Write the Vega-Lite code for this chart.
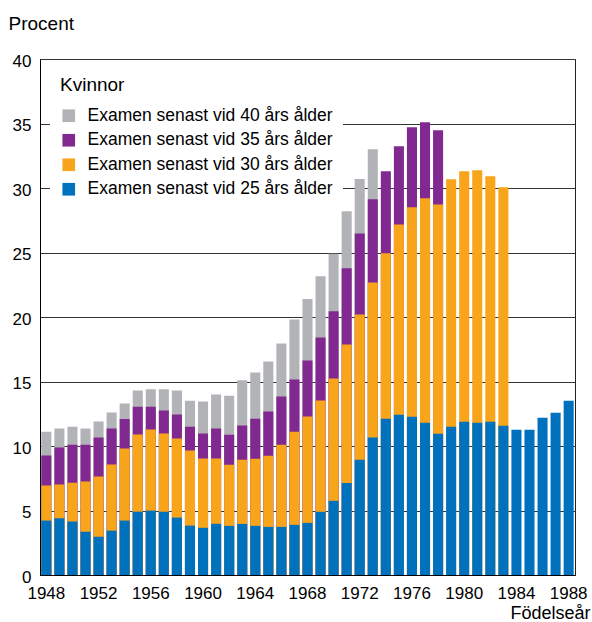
{
  "$schema": "https://vega.github.io/schema/vega-lite/v6.json",
  "width": 535,
  "height": 516,
  "autosize": {"type": "none"},
  "padding": {"left": 40, "top": 59, "right": 17, "bottom": 47},
  "background": "white",
  "config": {
    "font": "Liberation Sans",
    "view": {"stroke": "#222", "strokeWidth": 1},
    "axis": {"labelColor": "#000", "titleColor": "#000", "labelFont": "Liberation Sans", "titleFont": "Liberation Sans", "titleFontWeight": "normal"}
  },
  "data": {
    "values": [
      {"år": 1948, "grupp": "Examen senast vid 40 års ålder", "procent": 11.1},
      {"år": 1949, "grupp": "Examen senast vid 40 års ålder", "procent": 11.35},
      {"år": 1950, "grupp": "Examen senast vid 40 års ålder", "procent": 11.5},
      {"år": 1951, "grupp": "Examen senast vid 40 års ålder", "procent": 11.35},
      {"år": 1952, "grupp": "Examen senast vid 40 års ålder", "procent": 11.9},
      {"år": 1953, "grupp": "Examen senast vid 40 års ålder", "procent": 12.6},
      {"år": 1954, "grupp": "Examen senast vid 40 års ålder", "procent": 13.3},
      {"år": 1955, "grupp": "Examen senast vid 40 års ålder", "procent": 14.3},
      {"år": 1956, "grupp": "Examen senast vid 40 års ålder", "procent": 14.4},
      {"år": 1957, "grupp": "Examen senast vid 40 års ålder", "procent": 14.4},
      {"år": 1958, "grupp": "Examen senast vid 40 års ålder", "procent": 14.3},
      {"år": 1959, "grupp": "Examen senast vid 40 års ålder", "procent": 13.5},
      {"år": 1960, "grupp": "Examen senast vid 40 års ålder", "procent": 13.45},
      {"år": 1961, "grupp": "Examen senast vid 40 års ålder", "procent": 14.0},
      {"år": 1962, "grupp": "Examen senast vid 40 års ålder", "procent": 13.9},
      {"år": 1963, "grupp": "Examen senast vid 40 års ålder", "procent": 15.1},
      {"år": 1964, "grupp": "Examen senast vid 40 års ålder", "procent": 15.7},
      {"år": 1965, "grupp": "Examen senast vid 40 års ålder", "procent": 16.55},
      {"år": 1966, "grupp": "Examen senast vid 40 års ålder", "procent": 17.95},
      {"år": 1967, "grupp": "Examen senast vid 40 års ålder", "procent": 19.8},
      {"år": 1968, "grupp": "Examen senast vid 40 års ålder", "procent": 21.4},
      {"år": 1969, "grupp": "Examen senast vid 40 års ålder", "procent": 23.15},
      {"år": 1970, "grupp": "Examen senast vid 40 års ålder", "procent": 24.9},
      {"år": 1971, "grupp": "Examen senast vid 40 års ålder", "procent": 28.2},
      {"år": 1972, "grupp": "Examen senast vid 40 års ålder", "procent": 30.7},
      {"år": 1973, "grupp": "Examen senast vid 40 års ålder", "procent": 33.0},
      {"år": 1948, "grupp": "Examen senast vid 35 års ålder", "procent": 9.26},
      {"år": 1949, "grupp": "Examen senast vid 35 års ålder", "procent": 9.88},
      {"år": 1950, "grupp": "Examen senast vid 35 års ålder", "procent": 10.1},
      {"år": 1951, "grupp": "Examen senast vid 35 års ålder", "procent": 10.1},
      {"år": 1952, "grupp": "Examen senast vid 35 års ålder", "procent": 10.65},
      {"år": 1953, "grupp": "Examen senast vid 35 års ålder", "procent": 11.35},
      {"år": 1954, "grupp": "Examen senast vid 35 års ålder", "procent": 12.1},
      {"år": 1955, "grupp": "Examen senast vid 35 års ålder", "procent": 13.05},
      {"år": 1956, "grupp": "Examen senast vid 35 års ålder", "procent": 13.05},
      {"år": 1957, "grupp": "Examen senast vid 35 års ålder", "procent": 12.75},
      {"år": 1958, "grupp": "Examen senast vid 35 års ålder", "procent": 12.45},
      {"år": 1959, "grupp": "Examen senast vid 35 års ålder", "procent": 11.5},
      {"år": 1960, "grupp": "Examen senast vid 35 års ålder", "procent": 10.96},
      {"år": 1961, "grupp": "Examen senast vid 35 års ålder", "procent": 11.35},
      {"år": 1962, "grupp": "Examen senast vid 35 års ålder", "procent": 10.88},
      {"år": 1963, "grupp": "Examen senast vid 35 års ålder", "procent": 11.58},
      {"år": 1964, "grupp": "Examen senast vid 35 års ålder", "procent": 12.12},
      {"år": 1965, "grupp": "Examen senast vid 35 års ålder", "procent": 12.67},
      {"år": 1966, "grupp": "Examen senast vid 35 års ålder", "procent": 13.83},
      {"år": 1967, "grupp": "Examen senast vid 35 års ålder", "procent": 15.16},
      {"år": 1968, "grupp": "Examen senast vid 35 års ålder", "procent": 16.63},
      {"år": 1969, "grupp": "Examen senast vid 35 års ålder", "procent": 18.42},
      {"år": 1970, "grupp": "Examen senast vid 35 års ålder", "procent": 20.44},
      {"år": 1971, "grupp": "Examen senast vid 35 års ålder", "procent": 23.77},
      {"år": 1972, "grupp": "Examen senast vid 35 års ålder", "procent": 26.48},
      {"år": 1973, "grupp": "Examen senast vid 35 års ålder", "procent": 29.12},
      {"år": 1974, "grupp": "Examen senast vid 35 års ålder", "procent": 31.3},
      {"år": 1975, "grupp": "Examen senast vid 35 års ålder", "procent": 33.24},
      {"år": 1976, "grupp": "Examen senast vid 35 års ålder", "procent": 34.71},
      {"år": 1977, "grupp": "Examen senast vid 35 års ålder", "procent": 35.1},
      {"år": 1978, "grupp": "Examen senast vid 35 års ålder", "procent": 34.48},
      {"år": 1948, "grupp": "Examen senast vid 30 års ålder", "procent": 6.93},
      {"år": 1949, "grupp": "Examen senast vid 30 års ålder", "procent": 7.01},
      {"år": 1950, "grupp": "Examen senast vid 30 års ålder", "procent": 7.16},
      {"år": 1951, "grupp": "Examen senast vid 30 års ålder", "procent": 7.24},
      {"år": 1952, "grupp": "Examen senast vid 30 års ålder", "procent": 7.63},
      {"år": 1953, "grupp": "Examen senast vid 30 års ålder", "procent": 8.56},
      {"år": 1954, "grupp": "Examen senast vid 30 års ålder", "procent": 9.8},
      {"år": 1955, "grupp": "Examen senast vid 30 års ålder", "procent": 10.89},
      {"år": 1956, "grupp": "Examen senast vid 30 års ålder", "procent": 11.27},
      {"år": 1957, "grupp": "Examen senast vid 30 års ålder", "procent": 10.96},
      {"år": 1958, "grupp": "Examen senast vid 30 års ålder", "procent": 10.58},
      {"år": 1959, "grupp": "Examen senast vid 30 års ålder", "procent": 9.65},
      {"år": 1960, "grupp": "Examen senast vid 30 års ålder", "procent": 9.03},
      {"år": 1961, "grupp": "Examen senast vid 30 års ålder", "procent": 9.03},
      {"år": 1962, "grupp": "Examen senast vid 30 års ålder", "procent": 8.55},
      {"år": 1963, "grupp": "Examen senast vid 30 års ålder", "procent": 8.94},
      {"år": 1964, "grupp": "Examen senast vid 30 års ålder", "procent": 9.02},
      {"år": 1965, "grupp": "Examen senast vid 30 års ålder", "procent": 9.25},
      {"år": 1966, "grupp": "Examen senast vid 30 års ålder", "procent": 10.1},
      {"år": 1967, "grupp": "Examen senast vid 30 års ålder", "procent": 11.11},
      {"år": 1968, "grupp": "Examen senast vid 30 års ålder", "procent": 12.28},
      {"år": 1969, "grupp": "Examen senast vid 30 års ålder", "procent": 13.52},
      {"år": 1970, "grupp": "Examen senast vid 30 års ålder", "procent": 15.23},
      {"år": 1971, "grupp": "Examen senast vid 30 års ålder", "procent": 17.87},
      {"år": 1972, "grupp": "Examen senast vid 30 års ålder", "procent": 20.2},
      {"år": 1973, "grupp": "Examen senast vid 30 års ålder", "procent": 22.68},
      {"år": 1974, "grupp": "Examen senast vid 30 års ålder", "procent": 24.95},
      {"år": 1975, "grupp": "Examen senast vid 30 års ålder", "procent": 27.18},
      {"år": 1976, "grupp": "Examen senast vid 30 års ålder", "procent": 28.5},
      {"år": 1977, "grupp": "Examen senast vid 30 års ålder", "procent": 29.2},
      {"år": 1978, "grupp": "Examen senast vid 30 års ålder", "procent": 28.73},
      {"år": 1979, "grupp": "Examen senast vid 30 års ålder", "procent": 30.68},
      {"år": 1980, "grupp": "Examen senast vid 30 års ålder", "procent": 31.3},
      {"år": 1981, "grupp": "Examen senast vid 30 års ålder", "procent": 31.37},
      {"år": 1982, "grupp": "Examen senast vid 30 års ålder", "procent": 30.91},
      {"år": 1983, "grupp": "Examen senast vid 30 års ålder", "procent": 30.06},
      {"år": 1948, "grupp": "Examen senast vid 25 års ålder", "procent": 4.22},
      {"år": 1949, "grupp": "Examen senast vid 25 års ålder", "procent": 4.4},
      {"år": 1950, "grupp": "Examen senast vid 25 års ålder", "procent": 4.14},
      {"år": 1951, "grupp": "Examen senast vid 25 års ålder", "procent": 3.36},
      {"år": 1952, "grupp": "Examen senast vid 25 års ålder", "procent": 2.97},
      {"år": 1953, "grupp": "Examen senast vid 25 års ålder", "procent": 3.44},
      {"år": 1954, "grupp": "Examen senast vid 25 års ålder", "procent": 4.22},
      {"år": 1955, "grupp": "Examen senast vid 25 års ålder", "procent": 4.91},
      {"år": 1956, "grupp": "Examen senast vid 25 års ålder", "procent": 4.99},
      {"år": 1957, "grupp": "Examen senast vid 25 års ålder", "procent": 4.91},
      {"år": 1958, "grupp": "Examen senast vid 25 års ålder", "procent": 4.45},
      {"år": 1959, "grupp": "Examen senast vid 25 års ålder", "procent": 3.83},
      {"år": 1960, "grupp": "Examen senast vid 25 års ålder", "procent": 3.66},
      {"år": 1961, "grupp": "Examen senast vid 25 års ålder", "procent": 3.97},
      {"år": 1962, "grupp": "Examen senast vid 25 års ålder", "procent": 3.81},
      {"år": 1963, "grupp": "Examen senast vid 25 års ålder", "procent": 3.96},
      {"år": 1964, "grupp": "Examen senast vid 25 års ålder", "procent": 3.81},
      {"år": 1965, "grupp": "Examen senast vid 25 års ålder", "procent": 3.73},
      {"år": 1966, "grupp": "Examen senast vid 25 års ålder", "procent": 3.73},
      {"år": 1967, "grupp": "Examen senast vid 25 års ålder", "procent": 3.89},
      {"år": 1968, "grupp": "Examen senast vid 25 års ålder", "procent": 4.04},
      {"år": 1969, "grupp": "Examen senast vid 25 års ålder", "procent": 4.9},
      {"år": 1970, "grupp": "Examen senast vid 25 års ålder", "procent": 5.75},
      {"år": 1971, "grupp": "Examen senast vid 25 års ålder", "procent": 7.14},
      {"år": 1972, "grupp": "Examen senast vid 25 års ålder", "procent": 8.93},
      {"år": 1973, "grupp": "Examen senast vid 25 års ålder", "procent": 10.65},
      {"år": 1974, "grupp": "Examen senast vid 25 års ålder", "procent": 12.12},
      {"år": 1975, "grupp": "Examen senast vid 25 års ålder", "procent": 12.43},
      {"år": 1976, "grupp": "Examen senast vid 25 års ålder", "procent": 12.27},
      {"år": 1977, "grupp": "Examen senast vid 25 års ålder", "procent": 11.8},
      {"år": 1978, "grupp": "Examen senast vid 25 års ålder", "procent": 10.95},
      {"år": 1979, "grupp": "Examen senast vid 25 års ålder", "procent": 11.49},
      {"år": 1980, "grupp": "Examen senast vid 25 års ålder", "procent": 11.88},
      {"år": 1981, "grupp": "Examen senast vid 25 års ålder", "procent": 11.8},
      {"år": 1982, "grupp": "Examen senast vid 25 års ålder", "procent": 11.88},
      {"år": 1983, "grupp": "Examen senast vid 25 års ålder", "procent": 11.57},
      {"år": 1984, "grupp": "Examen senast vid 25 års ålder", "procent": 11.26},
      {"år": 1985, "grupp": "Examen senast vid 25 års ålder", "procent": 11.26},
      {"år": 1986, "grupp": "Examen senast vid 25 års ålder", "procent": 12.19},
      {"år": 1987, "grupp": "Examen senast vid 25 års ålder", "procent": 12.58},
      {"år": 1988, "grupp": "Examen senast vid 25 års ålder", "procent": 13.51}
    ]
  },
  "mark": {"type": "bar"},
  "encoding": {
    "x": {
      "field": "år",
      "type": "ordinal",
      "scale": {"paddingInner": 0.23, "paddingOuter": 0.1},
      "axis": {
        "values": [1948, 1952, 1956, 1960, 1964, 1968, 1972, 1976, 1980, 1984, 1988],
        "labelAngle": 0,
        "labelFontSize": 17,
        "labelPadding": 10,
        "ticks": false,
        "domain": true,
        "domainColor": "#000",
        "domainWidth": 1,
        "grid": false,
        "title": "Födelseår",
        "titleFontSize": 18,
        "titleAnchor": "end",
        "titleAlign": "right",
        "titleBaseline": "alphabetic",
        "titleX": 550,
        "titleY": 43
      }
    },
    "y": {
      "field": "procent",
      "type": "quantitative",
      "stack": null,
      "scale": {"domain": [0, 40], "nice": false},
      "axis": {
        "values": [0, 5, 10, 15, 20, 25, 30, 35, 40],
        "labelFontSize": 17,
        "labelPadding": 9,
        "labelOffset": 2,
        "ticks": false,
        "domain": true,
        "domainColor": "#000",
        "grid": true,
        "gridColor": "#333",
        "gridWidth": 1,
        "title": "Procent",
        "titleFontSize": 19,
        "titleAngle": 0,
        "titleAlign": "left",
        "titleBaseline": "alphabetic",
        "titleX": -32,
        "titleY": -30
      }
    },
    "color": {
      "field": "grupp",
      "type": "nominal",
      "scale": {
        "domain": ["Examen senast vid 40 års ålder", "Examen senast vid 35 års ålder", "Examen senast vid 30 års ålder", "Examen senast vid 25 års ålder"],
        "range": ["#B1B3B6", "#812990", "#F9A51C", "#0071BC"]
      },
      "legend": {
        "title": "Kvinnor",
        "orient": "none",
        "legendX": 10,
        "legendY": 7,
        "padding": 10,
        "fillColor": "white",
        "titleFontSize": 19,
        "titleFontWeight": "normal",
        "titleColor": "#000",
        "titlePadding": 12,
        "labelFontSize": 17.5,
        "labelColor": "#000",
        "labelLimit": 400,
        "labelOffset": 10,
        "symbolType": "square",
        "symbolSize": 160,
        "symbolStrokeWidth": 0,
        "symbolOpacity": 1,
        "rowPadding": 5.5
      }
    }
  }
}
